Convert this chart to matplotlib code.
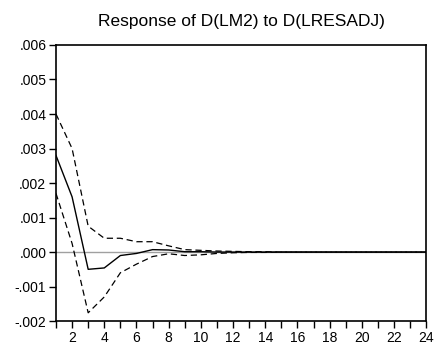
import matplotlib
matplotlib.use('Agg')
import matplotlib.pyplot as plt
import numpy as np
from matplotlib.ticker import FuncFormatter, MultipleLocator

periods = np.arange(1, 25)
response = [0.0028, 0.0016, -0.0005, -0.00046, -0.0001, -0.00004, 0.00007, 0.00006,
            0.00001, 0.00001, 0.0, 0.0, 0.0, 0.0, 0.0, 0.0, 0.0, 0.0, 0.0, 0.0,
            0.0, 0.0, 0.0, 0.0]
upper = [0.0040, 0.0030, 0.00075, 0.0004, 0.0004, 0.0003, 0.0003, 0.00018,
         0.00007, 0.00005, 0.00003, 0.00002, 0.00001, 0.00001, 0.0, 0.0, 0.0, 0.0,
         0.0, 0.0, 0.0, 0.0, 0.0, 0.0]
lower = [0.0017, 0.00025, -0.00176, -0.0013, -0.0006, -0.00035, -0.00013, -0.00005,
         -0.0001, -0.00008, -0.00004, -0.00002, -0.00001, -0.00001, 0.0, 0.0, 0.0, 0.0,
         0.0, 0.0, 0.0, 0.0, 0.0, 0.0]
title = 'Response of D(LM2) to D(LRESADJ)'

plt.rcParams['font.family'] = ['Liberation Sans', 'DejaVu Sans']

fig = plt.figure(figsize=(4.34, 3.46), dpi=100)
ax = fig.add_axes([0.129, 0.072, 0.853, 0.798])

ax.axhline(0, color='#a0a0a0', lw=1.0, zorder=1)
ax.plot(periods, response, color='black', lw=1.0, zorder=3)
ax.plot(periods, upper, color='black', lw=0.9, ls=(0, (5, 3)), zorder=3)
ax.plot(periods, lower, color='black', lw=0.9, ls=(0, (5, 3)), zorder=3)

ax.set_xlim(1, 24)
ax.set_ylim(-0.002, 0.006)


def yfmt(v, pos):
    s = '%.3f' % v
    s = s.replace('0.', '.')
    if s == '-.000':
        s = '.000'
    return s


ax.yaxis.set_major_locator(MultipleLocator(0.001))
ax.yaxis.set_major_formatter(FuncFormatter(yfmt))
ax.xaxis.set_major_locator(MultipleLocator(2))
ax.xaxis.set_minor_locator(MultipleLocator(1))
ax.tick_params(axis='both', which='both', direction='out', top=False, right=False,
               labelsize=10, width=1.0, color='black')
ax.tick_params(axis='y', length=5, pad=2)
ax.tick_params(axis='x', which='both', length=5, pad=2)
for s in ax.spines.values():
    s.set_linewidth(1.2)

ax.set_title(title, fontsize=12.5, pad=14)

fig.savefig('out.png', dpi=100)
